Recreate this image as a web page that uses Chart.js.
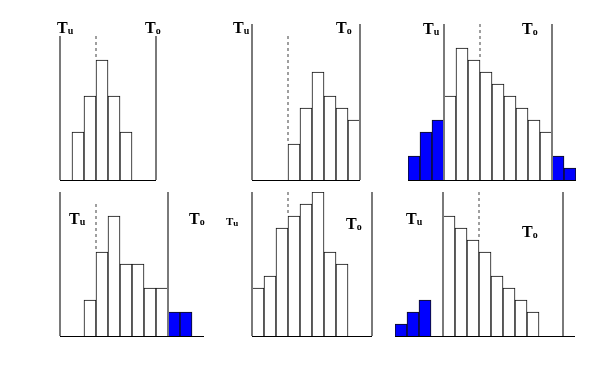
<!DOCTYPE html>
<html lang="de">
<head>
<meta charset="UTF-8">
<title>Histogramme</title>
<script src="https://cdn.jsdelivr.net/npm/chart.js"></script>
<style>
    body { margin: 0; background: #fff; }
    #fig { position: relative; width: 612px; height: 372px; overflow: hidden; }
    #fig canvas { position: absolute; }
    .lab { position: absolute; font-family: "Liberation Serif", serif; font-weight: bold;
           font-size: 16px; line-height: 1; color: #000; white-space: nowrap; }
    .lab sub { font-size: 10px; vertical-align: 0; position: relative; top: 1px; }
    .small { font-size: 11px; }
    .small sub { font-size: 9px; }
</style>
</head>
<body>
<div id="fig">
    <canvas id="c1"></canvas>
    <canvas id="c2"></canvas>
    <canvas id="c3"></canvas>
    <canvas id="c4"></canvas>
    <canvas id="c5"></canvas>
    <canvas id="c6"></canvas>

    <div class="lab" style="left:57px;top:20px">T<sub>u</sub></div>
    <div class="lab" style="left:145px;top:20px">T<sub>o</sub></div>
    <div class="lab" style="left:233px;top:20px">T<sub>u</sub></div>
    <div class="lab" style="left:336px;top:20px">T<sub>o</sub></div>
    <div class="lab" style="left:423px;top:21px">T<sub>u</sub></div>
    <div class="lab" style="left:522px;top:21px">T<sub>o</sub></div>
    <div class="lab" style="left:69px;top:211px">T<sub>u</sub></div>
    <div class="lab" style="left:189px;top:211px">T<sub>o</sub></div>
    <div class="lab small" style="left:226px;top:216px">T<sub>u</sub></div>
    <div class="lab" style="left:346px;top:216px">T<sub>o</sub></div>
    <div class="lab" style="left:406px;top:211px">T<sub>u</sub></div>
    <div class="lab" style="left:522px;top:224px">T<sub>o</sub></div>
</div>
<script>
    // Häufigkeiten je Klasse
    const counts1 = [0, 4, 7, 10, 7, 4, 0, 0];
    const counts2 = [0, 0, 0, 3, 6, 9, 7, 6, 5];
    const counts3 = [2, 4, 5, 7, 11, 10, 9, 8, 7, 6, 5, 4, 2, 1];
    const counts4 = [0, 0, 3, 7, 10, 6, 6, 4, 4, 2, 2, 0];
    const counts5 = [4, 5, 9, 10, 11, 12, 7, 6, 0, 0];
    const counts6 = [1, 2, 3, 0, 10, 9, 8, 7, 5, 4, 3, 2, 0, 0, 0];

    // Klassen ausserhalb der Toleranz (blau)
    const outside1 = [];
    const outside2 = [];
    const outside3 = [0, 1, 2, 12, 13];
    const outside4 = [9, 10];
    const outside5 = [];
    const outside6 = [0, 1, 2];

    // Toleranzgrenzen Tu / To und Sollwert, als Klassengrenze
    const limits1 = [0, 8], nominal1 = 3;
    const limits2 = [0, 9], nominal2 = 3;
    const limits3 = [3, 12], nominal3 = 6;
    const limits4 = [0, 9], nominal4 = 3;
    const limits5 = [0, 10], nominal5 = 3;
    const limits6 = [4, 14], nominal6 = 7;

    // Höhe der Grenzlinien / Sollwertlinie
    const limitTop = [12, 13, 13, 12, 12, 12];
    const nominalTop = [12, 12, 13, 11, 12, 12];

    var UNIT = 12;   // px je Klasse und je Zähler
    var PAD = 3;

    var panels = [
        { id: 'c1', counts: counts1, outside: outside1, limits: limits1, nominal: nominal1, x0: 59.7, base: 180 },
        { id: 'c2', counts: counts2, outside: outside2, limits: limits2, nominal: nominal2, x0: 251.7, base: 180 },
        { id: 'c3', counts: counts3, outside: outside3, limits: limits3, nominal: nominal3, x0: 407.7, base: 180 },
        { id: 'c4', counts: counts4, outside: outside4, limits: limits4, nominal: nominal4, x0: 59.7, base: 336 },
        { id: 'c5', counts: counts5, outside: outside5, limits: limits5, nominal: nominal5, x0: 251.7, base: 336 },
        { id: 'c6', counts: counts6, outside: outside6, limits: limits6, nominal: nominal6, x0: 395.3, base: 336 }
    ];

    var linesPlugin = {
        id: 'lines',
        afterDatasetsDraw(chart, args, opts) {
            var ctx = chart.ctx;
            var xs = chart.scales.x, ys = chart.scales.y;
            var n = opts.n;
            var edge = function (b) { return xs.getPixelForValue(b - 0.5); };
            var y0 = ys.getPixelForValue(0);
            ctx.save();
            // Grundlinie
            ctx.strokeStyle = '#000';
            ctx.lineWidth = 1;
            ctx.beginPath();
            ctx.moveTo(edge(0), Math.round(y0) + 0.5);
            ctx.lineTo(edge(n), Math.round(y0) + 0.5);
            ctx.stroke();
            // Toleranzgrenzen
            ctx.strokeStyle = '#7a7a7a';
            ctx.lineWidth = 2;
            opts.limits.forEach(function (b) {
                var x = Math.round(edge(b));
                ctx.beginPath();
                ctx.moveTo(x, ys.getPixelForValue(opts.limitTop));
                ctx.lineTo(x, y0);
                ctx.stroke();
            });
            // Sollwert
            var bi = opts.nominal;
            var hTop = Math.max(opts.counts[bi - 1] || 0, opts.counts[bi] || 0);
            var xn = Math.round(edge(bi));
            ctx.strokeStyle = '#808080';
            ctx.lineWidth = 1.5;
            ctx.setLineDash([3, 3]);
            ctx.beginPath();
            ctx.moveTo(xn, ys.getPixelForValue(opts.nominalTop));
            ctx.lineTo(xn, ys.getPixelForValue(hTop));
            ctx.stroke();
            ctx.restore();
        }
    };

    panels.forEach(function (p, k) {
        var n = p.counts.length;
        var max = limitTop[k];
        var cv = document.getElementById(p.id);
        cv.width = n * UNIT + 2 * PAD;
        cv.height = max * UNIT + 2 * PAD;
        cv.style.left = (p.x0 - PAD) + 'px';
        cv.style.top = (p.base - max * UNIT - PAD) + 'px';

        var labels = p.counts.map(function (v, i) { return String(i); });
        var colors = p.counts.map(function (v, i) { return p.outside.indexOf(i) >= 0 ? '#0000ff' : '#ffffff'; });

        new Chart(cv, {
            type: 'bar',
            data: {
                labels: labels,
                datasets: [{
                    data: p.counts,
                    backgroundColor: colors,
                    borderColor: '#111',
                    borderWidth: 1,
                    borderSkipped: 'bottom',
                    barPercentage: 1,
                    categoryPercentage: 1
                }]
            },
            options: {
                responsive: false,
                animation: false,
                devicePixelRatio: 1,
                layout: { padding: PAD },
                scales: {
                    x: { display: false, offset: true },
                    y: { display: false, min: 0, max: max }
                },
                plugins: {
                    legend: { display: false },
                    tooltip: { enabled: false },
                    lines: {
                        n: n,
                        counts: p.counts,
                        limits: p.limits,
                        nominal: p.nominal,
                        limitTop: max,
                        nominalTop: nominalTop[k]
                    }
                }
            },
            plugins: [linesPlugin]
        });
    });
</script>
</body>
</html>
